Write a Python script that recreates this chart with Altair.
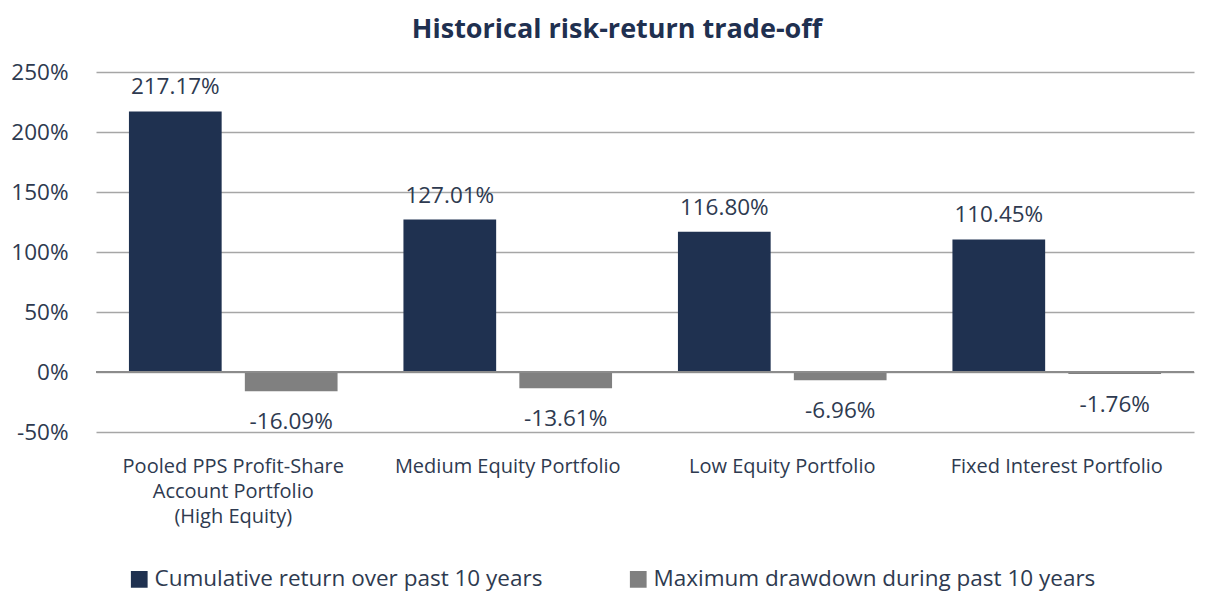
import altair as alt
import pandas as pd

categories = [
    "Pooled PPS Profit-Share|Account Portfolio|(High Equity)",
    "Medium Equity Portfolio",
    "Low Equity Portfolio",
    "Fixed Interest Portfolio",
]
series = ["Cumulative return over past 10 years", "Maximum drawdown during past 10 years"]
cumulative_return = [217.17, 127.01, 116.80, 110.45]
max_drawdown = [-16.09, -13.61, -6.96, -1.76]
y_ticks = [-50, 0, 50, 100, 150, 200, 250]

rows = []
for c, r, d in zip(categories, cumulative_return, max_drawdown):
    rows.append({"category": c, "series": series[0], "value": r})
    rows.append({"category": c, "series": series[1], "value": d})
df = pd.DataFrame(rows)

NAVY = "#1F3150"
GRAY = "#808080"
TEXT = "#2E3A50"
FONT = "Open Sans"

x_enc = alt.X(
    "category:N",
    sort=categories,
    scale=alt.Scale(paddingInner=0.24, paddingOuter=0.12),
    axis=alt.Axis(
        title=None,
        labelExpr="split(datum.label, '|')",
        labelAngle=0,
        labelFontSize=20,
        labelColor=TEXT,
        labelFont=FONT,
        labelPadding=24,
        labelLineHeight=25,
        labelLimit=0,
        domain=False,
        ticks=False,
    ),
)
xoff = alt.XOffset("series:N", sort=series, scale=alt.Scale(paddingInner=0.2, paddingOuter=0))
y_enc = alt.Y(
    "value:Q",
    scale=alt.Scale(domain=[-50, 250], nice=False),
    axis=alt.Axis(
        title=None,
        values=y_ticks,
        labelExpr="datum.value + '%'",
        labelFontSize=22.5,
        labelColor=TEXT,
        labelFont=FONT,
        labelPadding=28,
        grid=True,
        gridColor="#A6A6A6",
        gridWidth=1.5,
        domain=False,
        ticks=False,
    ),
)

base = alt.Chart(df)

bars = base.mark_bar().encode(
    x=x_enc,
    xOffset=xoff,
    y=y_enc,
    color=alt.Color(
        "series:N",
        sort=series,
        scale=alt.Scale(domain=series, range=[NAVY, GRAY]),
        legend=alt.Legend(
            title=None,
            orient="none",
            direction="horizontal",
            legendX=32,
            legendY=496,
            symbolType="square",
            symbolSize=280,
            symbolStrokeWidth=0,
            labelFontSize=22.5,
            labelFont=FONT,
            labelColor=TEXT,
            labelLimit=0,
            columnPadding=84,
            labelOffset=4,
        ),
    ),
)

zero = alt.Chart(pd.DataFrame({"z": [0]})).mark_rule(color="#8C8C8C", strokeWidth=2).encode(y="z:Q")

label_expr = "(datum.value < 0 ? '-' : '') + format(abs(datum.value), '.2f') + '%'"

labels_pos = base.transform_filter("datum.value >= 0").transform_calculate(
    label=label_expr
).mark_text(baseline="bottom", dy=-12, fontSize=22.5, font=FONT, color=TEXT).encode(
    x=alt.X("category:N", sort=categories), xOffset=xoff, y="value:Q", text="label:N"
)
labels_neg = base.transform_filter("datum.value < 0").transform_calculate(
    label=label_expr
).mark_text(baseline="top", dy=20, fontSize=22.5, font=FONT, color=TEXT).encode(
    x=alt.X("category:N", sort=categories), xOffset=xoff, y="value:Q", text="label:N"
)

chart = (
    alt.layer(bars, zero, labels_pos, labels_neg)
    .properties(
        width=1098,
        height=360,
        padding={"left": 2, "top": 8, "right": 5, "bottom": 5},
        title=alt.TitleParams(
            "Historical risk-return trade-off",
            fontSize=27,
            fontWeight="bold",
            font=FONT,
            color="#1F3050",
            anchor="middle",
            dx=-28,
            offset=17,
        ),
    )
    .configure_view(stroke=None)
)

chart.save("out.html", embed_options={"renderer": "svg", "actions": False})
